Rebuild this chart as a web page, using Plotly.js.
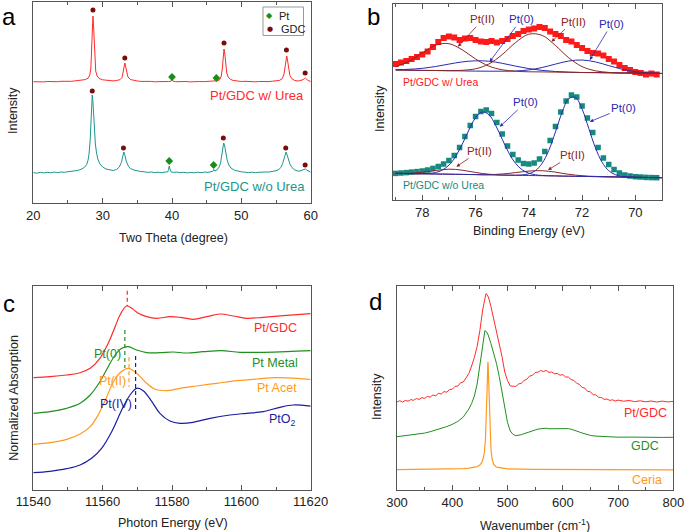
<!DOCTYPE html>
<html><head><meta charset="utf-8">
<script src="https://cdn.plot.ly/plotly-3.0.1.min.js"></script>
<style>html,body{margin:0;padding:0;background:#fff}#chart{width:685px;height:532px}</style>
</head><body><div id="chart"></div>
<script>
// ---------- Panel a: XRD ----------
const xrdRed = [[20.0,121.3],[20.5,121.0],[21.0,121.4],[21.5,121.1],[22.0,121.5],[22.5,121.2],[23.0,121.6],[23.5,121.3],[24.0,121.7],[24.5,121.5],[25.0,121.9],[25.5,121.7],[26.0,122.1],[26.5,122.3],[27.0,122.8],[27.5,123.4],[27.9,124.8],[28.15,128],[28.3,135],[28.4,150],[28.5,170],[28.6,187],[28.7,176],[28.8,156],[28.9,140],[29.0,132],[29.2,127],[29.5,124.5],[30.0,123.2],[30.5,122.6],[31.0,122.3],[31.5,122.1],[32.0,122.5],[32.5,123.3],[32.8,125.5],[32.95,130],[33.1,137],[33.2,140],[33.3,137],[33.45,131],[33.65,126],[34.0,123.5],[34.5,122.4],[35.0,122.0],[35.5,121.6],[36.0,121.8],[36.5,121.4],[37.0,121.6],[37.5,121.2],[38.0,121.5],[38.5,121.2],[39.0,121.5],[39.5,121.4],[39.85,121.8],[40.0,122.8],[40.15,121.8],[40.5,121.3],[41.0,121.6],[41.5,121.2],[42.0,121.5],[42.5,121.1],[43.0,121.4],[43.5,121.2],[44.0,121.5],[44.5,121.3],[45.0,121.6],[45.5,121.4],[46.0,121.7],[46.3,122.2],[46.45,122.6],[46.6,122.3],[46.9,123.5],[47.1,127],[47.25,134],[47.4,146],[47.5,154],[47.6,150],[47.75,138],[47.9,130],[48.1,126],[48.4,123.8],[48.8,122.6],[49.5,121.9],[50.0,121.5],[50.5,121.7],[51.0,121.3],[51.5,121.6],[52.0,121.2],[52.5,121.5],[53.0,121.3],[53.5,121.6],[54.0,121.4],[54.5,121.8],[55.0,121.9],[55.5,122.6],[55.9,124.5],[56.15,129],[56.3,136],[56.45,145],[56.55,147],[56.65,143],[56.8,134],[57.0,127.5],[57.3,124.2],[57.7,122.5],[58.2,122],[58.6,122.4],[58.9,123.3],[59.1,124.5],[59.25,125],[59.4,124],[59.6,122.5],[60.0,121.6]];
const xrdTeal = [[20.0,30.4],[20.5,29.8],[21.0,30.6],[21.5,30.1],[22.0,30.7],[22.5,30.2],[23.0,30.9],[23.5,30.4],[24.0,31.0],[24.5,30.7],[25.0,31.3],[25.5,31.5],[26.0,32.2],[26.5,32.8],[27.0,34.0],[27.4,35.8],[27.7,38.5],[27.9,43],[28.05,50],[28.2,63],[28.3,78],[28.4,95],[28.5,108],[28.6,101],[28.7,86],[28.8,72],[28.95,59],[29.1,51],[29.3,44],[29.6,39],[30.0,36],[30.5,34],[31.0,33],[31.5,32.5],[32.0,33.5],[32.4,36],[32.7,40.5],[32.9,46],[33.05,51],[33.2,48],[33.4,42],[33.7,37],[34.0,34.5],[34.5,33],[35.0,32],[35.5,31.5],[36.0,31.2],[36.5,30.6],[37.0,31.0],[37.5,30.4],[38.0,30.8],[38.5,30.3],[39.0,30.9],[39.4,31.2],[39.5,33.5],[39.6,37],[39.7,34],[39.85,31.3],[40.2,30.6],[40.7,30.9],[41.2,30.3],[41.7,30.7],[42.2,30.1],[42.7,30.6],[43.2,30.2],[43.7,30.8],[44.2,30.3],[44.7,30.9],[45.2,30.6],[45.6,31.2],[45.9,31.8],[46.05,33.5],[46.2,32],[46.5,33.2],[46.8,36],[47.0,40],[47.2,48],[47.35,56],[47.45,60],[47.6,57],[47.75,50],[47.95,43],[48.2,38],[48.5,35],[49.0,32.8],[49.5,31.8],[50.0,31.2],[50.5,30.8],[51.0,30.4],[51.5,30.8],[52.0,30.3],[52.5,30.7],[53.0,30.5],[53.5,31.0],[54.0,31.0],[54.5,31.5],[55.0,32.3],[55.4,33.5],[55.7,35.5],[55.95,39.5],[56.15,45],[56.35,50.5],[56.45,51],[56.6,48],[56.8,43],[57.0,39],[57.3,35.5],[57.7,33],[58.2,31.8],[58.6,32.2],[58.9,33.3],[59.1,34],[59.25,34],[59.45,32.8],[59.7,31.5],[60.0,30.8]];
const gdcRedX = [28.6,33.2,47.5,56.5,59.2], gdcRedY = [193,145,160,153,130];
const gdcTealX = [28.5,33.0,47.4,56.4,59.2], gdcTealY = [112,55,65,55,38];
const ptRedX = [40.0,46.4], ptRedY = [126,125];
const ptTealX = [39.6,46.0], ptTealY = [42,38];
const legendNames = ['Pt', 'GDC'];

// ---------- Panel b: XPS ----------
const xpsRed = [[79.0,136],[78.8,137.5],[78.6,139],[78.4,141],[78.2,143],[78.0,145.5],[77.8,148.5],[77.6,153],[77.4,158],[77.2,162],[77.0,163.5],[76.8,162.5],[76.6,160],[76.4,161.5],[76.2,162],[76.0,160],[75.8,158.5],[75.6,158],[75.4,159],[75.2,157.5],[75.0,159],[74.8,161],[74.6,164],[74.4,166],[74.2,169],[74.0,170.5],[73.8,171.5],[73.6,173],[73.4,172],[73.2,168.5],[73.0,166],[72.8,164],[72.6,160],[72.4,158.5],[72.2,155],[72.0,152],[71.8,149],[71.6,147],[71.4,146.5],[71.2,144.5],[71.0,141],[70.8,138.5],[70.6,135],[70.4,132],[70.2,130],[70.0,128],[69.8,127],[69.6,125.5],[69.4,126.5],[69.2,125.5]];
const xpsTeal = [[79.0,26.6],[78.8,27.0],[78.6,27.4],[78.4,27.9],[78.2,28.4],[78.0,29.0],[77.8,30.0],[77.6,31.6],[77.4,33.5],[77.2,36.0],[77.0,39.5],[76.8,44.5],[76.6,52.5],[76.4,63.5],[76.2,74.5],[76.0,83.5],[75.8,88.5],[75.6,90.0],[75.4,86.5],[75.2,77.5],[75.0,66.0],[74.8,54.0],[74.6,45.5],[74.4,40.0],[74.2,36.5],[74.0,36.0],[73.8,37.0],[73.6,41.0],[73.4,48.5],[73.2,59.5],[73.0,73.5],[72.8,88.0],[72.6,99.0],[72.4,105.0],[72.2,103.0],[72.0,94.0],[71.8,82.0],[71.6,67.5],[71.4,52.5],[71.2,42.0],[71.0,35.5],[70.8,30.5],[70.6,27.0],[70.4,25.0],[70.2,24.0],[70.0,23.3],[69.8,23.0],[69.6,22.6],[69.4,22.4],[69.2,22.3]];
const fitRedX = [79,78.5,78,77.5,77,76.5,76,75.5,75,74.5,74,73.5,73,72.5,72,71.5,71,70.5,70,69.5,69];
const fitRedPtII1 = [133.3,138.7,147.1,154.9,156.3,150.2,141.0,133.9,130.2,128.8,128.2,128.1,127.9,127.7,127.5,127.4,127.2,127.0,126.9,126.7,126.5];
const fitRedPtII2 = [130.0,129.8,129.6,129.5,129.3,129.7,131.2,136.0,145.4,157.4,165.8,164.6,154.5,142.2,133.4,129.2,127.6,127.0,126.9,126.7,126.5];
const fitRedPt0a = [130.3,130.7,131.7,133.5,135.9,138.1,139.2,138.8,136.7,133.9,131.4,129.6,128.5,127.9,127.5,127.4,127.2,127.0,126.9,126.7,126.5];
const fitRedPt0b = [130.0,129.8,129.6,129.5,129.3,129.1,128.9,128.8,128.8,129.0,130.1,132.5,135.9,139.0,140.0,138.1,134.4,130.8,128.4,127.2,126.6];
const fitTealX = [79,78.75,78.5,78.25,78,77.75,77.5,77.25,77,76.75,76.5,76.25,76,75.75,75.5,75.25,75,74.75,74.5,74.25,74,73.75,73.5,73.25,73,72.75,72.5,72.25,72,71.75,71.5,71.25,71,70.75,70.5,70.25,70,69.75,69.5,69.25,69];
const fitTealPt0a = [26.7,26.6,26.4,26.3,26.3,26.6,27.5,29.9,34.8,43.4,55.8,70.0,82.2,88.0,85.3,74.9,60.8,47.1,36.7,30.2,26.8,25.2,24.5,24.2,24.1,23.9,23.8,23.7,23.6,23.5,23.4,23.3,23.2,23.1,23.0,22.9,22.7,22.6,22.5,22.4,22.3];
const fitTealPt0b = [26.7,26.6,26.4,26.3,26.2,26.1,26.0,25.9,25.8,25.7,25.6,25.5,25.4,25.2,25.1,25.0,24.9,24.8,24.8,25.1,26.2,29.4,36.7,49.7,68.1,87.7,101.3,102.6,90.9,71.6,52.2,37.8,29.3,25.3,23.6,23.1,22.7,22.6,22.5,22.4,22.3];
const fitTealPtII1 = [26.7,26.6,26.8,27.1,27.7,28.5,29.5,30.3,30.8,30.6,29.8,28.7,27.6,26.5,25.8,25.3,25.0,24.8,24.7,24.6,24.5,24.4,24.3,24.2,24.1,23.9,23.8,23.7,23.6,23.5,23.4,23.3,23.2,23.1,23.0,22.9,22.7,22.6,22.5,22.4,22.3];
const fitTealPtII2 = [26.7,26.6,26.4,26.3,26.2,26.1,26.0,25.9,25.8,25.7,25.6,25.5,25.4,25.3,25.4,25.6,26.0,26.6,27.4,28.2,28.9,29.3,29.3,28.7,27.9,26.7,25.7,24.9,24.3,23.8,23.6,23.3,23.2,23.1,23.0,22.9,22.7,22.6,22.5,22.4,22.3];

// ---------- Panel c: XANES ----------
const xasPtGDC = [[11540,111.3],[11544.8,112.3],[11549.6,114],[11553.5,116.3],[11556.4,120.7],[11559.2,130.7],[11561.6,145.7],[11563.6,162.3],[11565.0,174],[11566.9,183],[11568.4,180.7],[11570.3,175.7],[11572.7,172.3],[11575.6,170.7],[11579.4,172.3],[11582.3,171.7],[11586.1,169.7],[11590.0,172.3],[11593.8,175],[11597.7,173],[11601.5,170.7],[11606.3,171.7],[11612.1,173.3],[11620,175.3]];
const xasPtMetal = [[11540,75.7],[11544.8,77.3],[11549.6,80.7],[11553.5,85.7],[11556.4,94],[11559.2,107.3],[11561.6,122.3],[11563.6,134],[11565.5,140.7],[11567.4,142.3],[11569.8,139],[11572.7,136.3],[11576.5,136.3],[11580.4,137],[11584.2,136],[11589.0,137.3],[11594.3,138.3],[11599.6,136.7],[11606.3,136.7],[11613.1,137.3],[11620,138.3]];
const xasPtAcet = [[11540,44.7],[11544.8,46.3],[11549.6,49.7],[11553.5,55],[11556.4,62.3],[11558.7,74],[11561.2,92.3],[11563.1,107.3],[11565.0,116.3],[11567.4,120.7],[11569.8,115.7],[11572.2,107.3],[11575.1,99.7],[11578.5,98.3],[11582.3,100.7],[11587.1,103],[11592.9,105.7],[11598.7,108.3],[11604.4,110],[11610.2,111.3],[11616.0,110.7],[11620,109.5]];
const xasPtO2 = [[11540,16.3],[11544.8,17.7],[11549.6,20.3],[11553.5,24],[11556.8,30.7],[11559.7,40.7],[11562.6,57.3],[11565.5,79],[11567.9,94],[11569.8,100.7],[11571.7,98.3],[11574.2,87.3],[11576.5,75.7],[11579.4,68],[11582.3,65.7],[11586.1,66.7],[11591.0,70.7],[11596.7,74],[11601.5,75.7],[11606.3,77.3],[11611.1,81.7],[11615.0,84],[11620,82.8]];
const dashPtGDC = [[11567.1,198.3],[11567.1,183]];
const dashPtMetal = [[11566.4,159],[11566.4,121]];
const dashPtAcet = [[11567.6,131.7],[11567.6,102.3]];
const dashPtO2 = [[11569.5,133],[11569.5,79]];

// ---------- Panel d: Raman ----------
const ramanPtGDC = [[300,88.0],[305,89.3],[310,87.9],[315,89.6],[320,88.8],[325,90.4],[330,89.7],[335,91.5],[340,90.6],[345,92.4],[350,91.6],[355,93.6],[360,92.9],[365,95.0],[370,94.2],[375,96.6],[380,96.0],[385,98.4],[390,97.8],[395,100.5],[400,100.8],[405,103.6],[410,103.9],[415,107.2],[420,108.0],[425,112.5],[430,116.5],[435,124.0],[440,132.5],[445,143.5],[450,159.5],[455,180.0],[458,189.5],[461,196.5],[463,195.5],[466,192.0],[470,183.5],[475,171.5],[480,160.5],[485,147.5],[490,133.5],[495,118.0],[500,109.5],[505,104.0],[510,103.8],[515,103.6],[520,106.0],[525,106.8],[530,109.5],[535,110.8],[540,114.0],[545,114.6],[550,117.5],[555,117.8],[560,119.5],[565,118.4],[570,119.6],[575,117.6],[580,118.0],[585,116.2],[590,116.6],[595,114.8],[600,115.4],[605,113.0],[610,113.0],[615,110.4],[620,109.6],[625,106.8],[630,105.6],[635,102.6],[640,101.8],[645,98.6],[650,98.2],[655,95.2],[660,95.1],[665,92.6],[670,92.5],[675,90.6],[680,91.0],[685,89.6],[690,90.2],[695,89.0],[700,89.9],[710,88.8],[720,89.5],[730,88.4],[740,89.2],[750,88.2],[760,89.0],[770,88.0],[780,88.9],[790,88.1],[800,88.6]];
const ramanGDC = [[300,53.3],[310,53.9],[320,54.4],[330,55.1],[340,56.0],[350,56.9],[360,58.3],[370,59.8],[380,61.4],[390,63.4],[400,65.6],[410,68.6],[420,73.0],[425,76.5],[430,81.0],[435,86.5],[440,94.0],[445,106.0],[450,125.0],[453,137.0],[456,149.5],[459,159.3],[462,158.2],[465,155.0],[470,146.5],[475,137.5],[480,126.5],[485,113.5],[490,99.0],[495,82.0],[500,67.5],[505,59.0],[510,55.6],[515,54.3],[520,54.6],[525,55.3],[530,56.3],[535,57.4],[540,58.4],[545,59.2],[550,60.0],[555,60.9],[560,61.3],[565,61.5],[570,61.8],[575,61.2],[580,61.3],[585,60.8],[590,61.0],[595,61.3],[600,61.2],[605,61.6],[610,61.4],[615,60.8],[620,60.1],[625,59.0],[630,58.0],[635,57.0],[640,56.0],[645,55.2],[650,54.6],[660,53.9],[670,53.5],[680,53.2],[690,53.0],[700,52.8],[720,52.9],[740,52.6],[760,52.8],[780,52.6],[800,52.7]];
const ramanCeria = [[300,20.3],[350,20.5],[400,21.0],[420,21.4],[430,21.8],[440,22.6],[445,23.4],[450,25.0],[453,27.0],[456,31.5],[458,37],[460,50],[461,62],[462,78],[463,100],[464,120],[464.5,128.3],[465,125],[466,108],[467,86],[468,66],[469,51],[470,41],[472,31],[475,25.5],[480,22.8],[490,21.6],[500,21.1],[550,20.6],[600,20.4],[700,20.2],[800,20.1]];

// ---------- helpers ----------
const W = 685, H = 532;
const X = p => p.map(d => d[0]), Y = p => p.map(d => d[1]);
const FONT = '"Liberation Sans", Arial, sans-serif';
const AX = '#555';
const C = {red:'#ff2a2a', teal:'#1a968e', tealM:'#168a80', gdcM:'#7a0c0c', ptM:'#1a8c1a',
           brown:'#8b2525', blue:'#2a2ab0', green:'#1f8f1f', orange:'#ff9a20', navy:'#1c1ca0'};

function line(x, y, color, xa, ya, extra) {
  return Object.assign({type:'scatter', mode:'lines', x:x, y:y, xaxis:xa, yaxis:ya,
    line:{color:color, width:1}, showlegend:false, hoverinfo:'skip'}, extra || {});
}

const traces = [
  line(X(xrdRed), Y(xrdRed), C.red, 'x', 'y'),
  line(X(xrdTeal), Y(xrdTeal), C.teal, 'x', 'y'),
  {type:'scatter', mode:'markers', name:legendNames[0], x:ptRedX.concat(ptTealX), y:ptRedY.concat(ptTealY), xaxis:'x', yaxis:'y',
   marker:{symbol:'diamond', size:6, color:C.ptM}, showlegend:false},
  {type:'scatter', mode:'markers', name:legendNames[1], x:gdcRedX.concat(gdcTealX), y:gdcRedY.concat(gdcTealY), xaxis:'x', yaxis:'y',
   marker:{symbol:'circle', size:5, color:C.gdcM}, showlegend:false},

  {type:'scatter', mode:'markers', x:X(xpsRed), y:Y(xpsRed), xaxis:'x2', yaxis:'y2',
   marker:{symbol:'square', size:6, color:'#ff1a1a'}, showlegend:false},
  {type:'scatter', mode:'markers', x:X(xpsTeal), y:Y(xpsTeal), xaxis:'x2', yaxis:'y2',
   marker:{symbol:'square', size:5.5, color:C.tealM}, showlegend:false},
  line(fitRedX, fitRedPt0a, C.blue, 'x2', 'y2', {line:{color:C.blue, width:1, shape:'spline'}}),
  line(fitRedX, fitRedPt0b, C.blue, 'x2', 'y2', {line:{color:C.blue, width:1, shape:'spline'}}),
  line(fitRedX, fitRedPtII1, C.brown, 'x2', 'y2', {line:{color:C.brown, width:1, shape:'spline'}}),
  line(fitRedX, fitRedPtII2, C.brown, 'x2', 'y2', {line:{color:C.brown, width:1, shape:'spline'}}),
  line(fitTealX, fitTealPtII1, C.brown, 'x2', 'y2', {line:{color:C.brown, width:1, shape:'spline'}}),
  line(fitTealX, fitTealPtII2, C.brown, 'x2', 'y2', {line:{color:C.brown, width:1, shape:'spline'}}),
  line(fitTealX, fitTealPt0a, C.blue, 'x2', 'y2', {line:{color:C.blue, width:1, shape:'spline'}}),
  line(fitTealX, fitTealPt0b, C.blue, 'x2', 'y2', {line:{color:C.blue, width:1, shape:'spline'}}),

  line(X(xasPtGDC), Y(xasPtGDC), C.red, 'x3', 'y3', {line:{color:C.red, width:1.2, shape:'spline'}}),
  line(X(xasPtMetal), Y(xasPtMetal), C.green, 'x3', 'y3', {line:{color:C.green, width:1.2, shape:'spline'}}),
  line(X(xasPtAcet), Y(xasPtAcet), C.orange, 'x3', 'y3', {line:{color:C.orange, width:1.2, shape:'spline'}}),
  line(X(xasPtO2), Y(xasPtO2), C.navy, 'x3', 'y3', {line:{color:C.navy, width:1.2, shape:'spline'}}),
  line(X(dashPtGDC), Y(dashPtGDC), C.red, 'x3', 'y3', {line:{color:C.red, width:1.2, dash:'4px,3px'}}),
  line(X(dashPtMetal), Y(dashPtMetal), C.green, 'x3', 'y3', {line:{color:C.green, width:1.2, dash:'4px,3px'}}),
  line(X(dashPtAcet), Y(dashPtAcet), C.orange, 'x3', 'y3', {line:{color:C.orange, width:1.2, dash:'4px,3px'}}),
  line(X(dashPtO2), Y(dashPtO2), C.navy, 'x3', 'y3', {line:{color:C.navy, width:1.2, dash:'4px,3px'}}),

  line(X(ramanPtGDC), Y(ramanPtGDC), C.red, 'x4', 'y4'),
  line(X(ramanGDC), Y(ramanGDC), C.green, 'x4', 'y4'),
  line(X(ramanCeria), Y(ramanCeria), C.orange, 'x4', 'y4', {line:{color:C.orange, width:1.2}})
];

const px = v => v / W, py = v => 1 - v / H;
function xax(dom, range, dtick, mdtick, extra) {
  return Object.assign({domain:dom, range:range, dtick:dtick, tick0:0, ticks:'inside', ticklen:5, tickwidth:1, tickcolor:AX,
    minor:{ticks:'inside', dtick:mdtick, tick0:0, ticklen:3, tickwidth:1, tickcolor:AX, showgrid:false},
    showline:true, linecolor:AX, linewidth:1, mirror:'ticks', showgrid:false, zeroline:false,
    tickfont:{size:13, color:'#222', family:FONT}, fixedrange:true}, extra || {});
}
function yax(dom, range, anchor) {
  return {domain:dom, range:range, anchor:anchor, showline:true, linecolor:AX, linewidth:1, mirror:true,
    showticklabels:false, ticks:'', showgrid:false, zeroline:false, fixedrange:true};
}

function txt(text, x, y, size, color, opts) {
  return Object.assign({text:text, xref:'paper', yref:'paper', x:px(x), y:py(y), showarrow:false,
    font:{size:size, color:color, family:FONT}, xanchor:'center', yanchor:'middle'}, opts || {});
}
function arr(text, x, y, ax, ay, color) {
  return {text:text, xref:'x2', yref:'y2', x:x, y:y, ax:ax, ay:ay, showarrow:true, arrowhead:2, arrowsize:0.9,
    arrowwidth:0.8, arrowcolor:color, standoff:0, startstandoff:0, font:{size:11.5, color:color, family:FONT}};
}
const SYM = '"DejaVu Sans", sans-serif';

const annotations = [
  txt('a', 8.5, 17, 24, '#000'), txt('b', 374, 16, 24, '#000'),
  txt('c', 9, 303, 24, '#000'), txt('d', 375, 301, 24, '#000'),
  txt('Intensity', 13, 111, 12.5, '#222', {textangle:-90}),
  txt('Two Theta (degree)', 173, 238.5, 12.5, '#222'),
  txt('Intensity', 380, 109, 12.5, '#222', {textangle:-90}),
  txt('Binding Energy (eV)', 529, 231, 12.5, '#222'),
  txt('Normalized Absorption', 13.3, 397.5, 12.5, '#222', {textangle:-90}),
  txt('Photon Energy (eV)', 172.5, 523, 12.5, '#222'),
  txt('Intensity', 377, 397, 12.5, '#222', {textangle:-90}),
  txt('Wavenumber (cm<sup>-1</sup>)', 535, 525, 12.5, '#222'),

  // legend of panel a
  txt('\u25C6', 269.5, 15.5, 8, C.ptM, {font:{size:8, color:C.ptM, family:SYM}}),
  txt(legendNames[0], 277, 15.5, 11, '#222', {xanchor:'left'}),
  txt('\u25CF', 269.5, 29, 7, C.gdcM, {font:{size:7, color:C.gdcM, family:SYM}}),
  txt(legendNames[1], 279, 29, 11, '#222', {xanchor:'left'}),

  txt('Pt/GDC w/ Urea', 306, 95, 13, C.red, {xanchor:'right'}),
  txt('Pt/GDC w/o Urea', 306.5, 187, 13, C.teal, {xanchor:'right'}),

  txt('Pt/GDC w/ Urea', 401, 82, 10.5, '#ff1a1a', {xanchor:'left'}),
  txt('Pt/GDC w/o Urea', 401, 185, 10.5, C.tealM, {xanchor:'left'}),
  arr('Pt(II)', 76.66, 153.3, 25, -27.4, C.brown),
  arr('Pt(0)', 75.47, 138.3, 31.7, -42.4, C.blue),
  arr('Pt(II)', 73.15, 158.3, 21.6, -20, C.brown),
  arr('Pt(0)', 71.71, 140, 21.7, -36, C.blue),
  arr('Pt(0)', 75.09, 73.3, 26, -24.4, C.blue),
  arr('Pt(0)', 71.71, 78.3, 34, -14, C.blue),
  arr('Pt(II)', 76.72, 33.3, 23.3, -15.7, C.brown),
  arr('Pt(II)', 73.28, 30, 24.4, -15, C.brown),

  txt('Pt/GDC', 299, 328, 12.5, C.red, {xanchor:'right'}),
  txt('Pt Metal', 300, 363, 12.5, C.green, {xanchor:'right'}),
  txt('Pt Acet', 299, 388, 12.5, C.orange, {xanchor:'right'}),
  txt('PtO<sub>2</sub>', 298, 420, 12.5, C.navy, {xanchor:'right'}),
  txt('Pt(0)', 123, 354, 12.5, C.green, {xanchor:'right'}),
  txt('Pt(II)', 128, 381, 12.5, C.orange, {xanchor:'right'}),
  txt('Pt(IV)', 134, 403.5, 12.5, C.navy, {xanchor:'right'}),

  txt('Pt/GDC', 668.5, 413, 12.5, C.red, {xanchor:'right'}),
  txt('GDC', 660.5, 446, 12.5, C.green, {xanchor:'right'}),
  txt('Ceria', 663.5, 480, 12.5, C.orange, {xanchor:'right'})
];

const layout = {
  width:W, height:H, margin:{l:0, r:0, t:0, b:0}, paper_bgcolor:'#fff', plot_bgcolor:'#fff',
  font:{family:FONT, color:'#222'},
  xaxis: xax([px(33.3), px(310.7)], [20, 60], 10, 5, {anchor:'y'}),
  yaxis: yax([py(203), py(1.7)], [0, 201.3], 'x'),
  xaxis2: xax([px(393), px(662)], [79.1, 69.0], 2, 1, {anchor:'y2'}),
  yaxis2: yax([py(200), py(4)], [0, 196], 'x2'),
  xaxis3: xax([px(33.3), px(310.7)], [11540, 11620], 20, 10, {anchor:'y3', tickformat:'d'}),
  yaxis3: yax([py(489.5), py(286)], [-0.5, 203], 'x3'),
  xaxis4: xax([px(397), px(673.3)], [300, 800], 100, 50, {anchor:'y4'}),
  yaxis4: yax([py(490), py(286)], [0, 204], 'x4'),
  showlegend:false,
  shapes:[{type:'rect', xref:'paper', yref:'paper', x0:px(263), x1:px(303.5), y0:py(35.5), y1:py(7),
           line:{color:'#999', width:1}, fillcolor:'rgba(255,255,255,0)'}],
  annotations: annotations
};

Plotly.newPlot('chart', traces, layout, {displayModeBar:false, staticPlot:true});
</script></body></html>
